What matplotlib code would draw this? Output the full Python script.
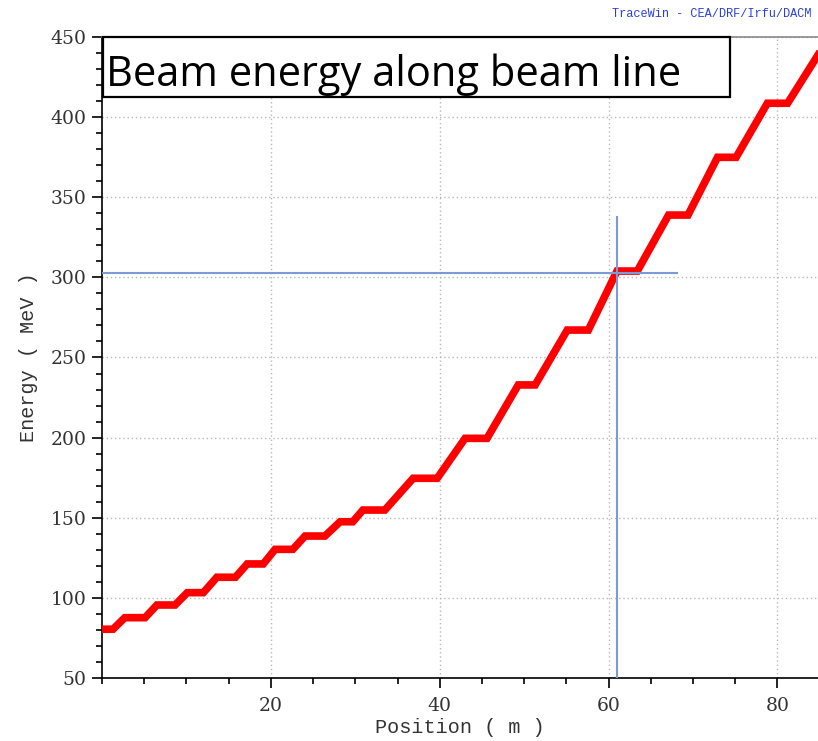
import matplotlib
matplotlib.use("Agg")
import matplotlib.pyplot as plt
from matplotlib.ticker import MultipleLocator
from matplotlib.patches import Rectangle

# beam energy along the line (corners of the drift plateaus)
position = [0.0, 1.3, 2.7, 5.1, 6.5, 8.65, 10.1, 12.0, 13.6, 15.8, 17.2, 19.1,
            20.5, 22.6, 24.05, 26.4, 28.2, 29.7, 30.9, 33.5, 36.85, 39.7,
            43.0, 45.6, 49.3, 51.3, 55.1, 57.6, 61.0, 63.4, 67.1, 69.4,
            72.9, 75.1, 78.8, 81.2, 84.8]
energy = [80.6, 80.6, 87.8, 87.8, 95.7, 95.7, 103.4, 103.4, 113.0, 113.0,
          121.3, 121.3, 130.4, 130.4, 138.7, 138.7, 147.6, 147.6, 154.9, 154.9,
          174.7, 174.7, 199.6, 199.6, 232.9, 232.9, 267.1, 267.1, 303.9, 303.9,
          338.8, 338.8, 374.8, 374.8, 408.5, 408.5, 438.6]

# cursor position
cursor_x = 61.0
cursor_y = 302.5
cursor_xend = 68.1
cursor_ytop = 337.8

title = "Beam energy along beam line"
banner = "TraceWin - CEA/DRF/Irfu/DACM"

fig = plt.figure(figsize=(8.18, 7.41), dpi=100)
ax = fig.add_axes([0.1247, 0.0846, 0.8753, 0.8659])

ax.plot(position, energy, color="red", lw=5.5, solid_joinstyle="miter", zorder=3)

ax.plot([0, cursor_xend], [cursor_y, cursor_y], color="#7b9bd6", lw=1.5, zorder=4)
ax.plot([cursor_x, cursor_x], [50, cursor_ytop], color="#7b9bd6", lw=1.5, zorder=4)

ax.set_xlim(0, 84.8)
ax.set_ylim(50, 450)
ax.xaxis.set_major_locator(MultipleLocator(20))
ax.xaxis.set_minor_locator(MultipleLocator(5))
ax.yaxis.set_major_locator(MultipleLocator(50))
ax.yaxis.set_minor_locator(MultipleLocator(10))
ax.set_xticks([20, 40, 60, 80])
ax.grid(True, which="major", color="#b8b8b8", linestyle=(0, (1, 2)), lw=1)
ax.tick_params(which="major", direction="out", length=7.5, width=1.2, color="black",
               labelsize=13.5, labelcolor="#333333")
ax.tick_params(axis="x", which="major", pad=6)
ax.tick_params(which="minor", direction="out", length=4.5, width=1.2, color="black")
for lab in ax.get_xticklabels() + ax.get_yticklabels():
    lab.set_family("DejaVu Serif")

ax.spines["right"].set_visible(False)
ax.spines["top"].set_color("#888888")
ax.spines["top"].set_linewidth(1.2)
ax.spines["left"].set_linewidth(1.2)
ax.spines["bottom"].set_linewidth(1.2)

ax.set_xlabel("Position ( m )", family="Liberation Mono", fontsize=14.5, color="#333333",
              labelpad=2)
ax.set_ylabel("Energy ( MeV )", family="Liberation Mono", fontsize=14.5, color="#333333",
              labelpad=9)

# title box
fig.patches.append(Rectangle((103 / 818, 1 - 97 / 741), (730 - 103) / 818, 60 / 741,
                             transform=fig.transFigure, facecolor="white",
                             edgecolor="black", lw=1.6, zorder=5))
t = fig.text(106 / 818, 1 - 86 / 741, title, family="Open Sans", fontsize=30,
             va="baseline", ha="left", zorder=6)
fig.canvas.draw()
w = t.get_window_extent().width
t.set_fontsize(30 * 574 / w)

fig.text(612 / 818, 1 - 14 / 741, banner, family="Liberation Mono", fontsize=8.6,
         color="#2a3ee0", va="center", ha="left")

fig.savefig("out.png", dpi=100)
